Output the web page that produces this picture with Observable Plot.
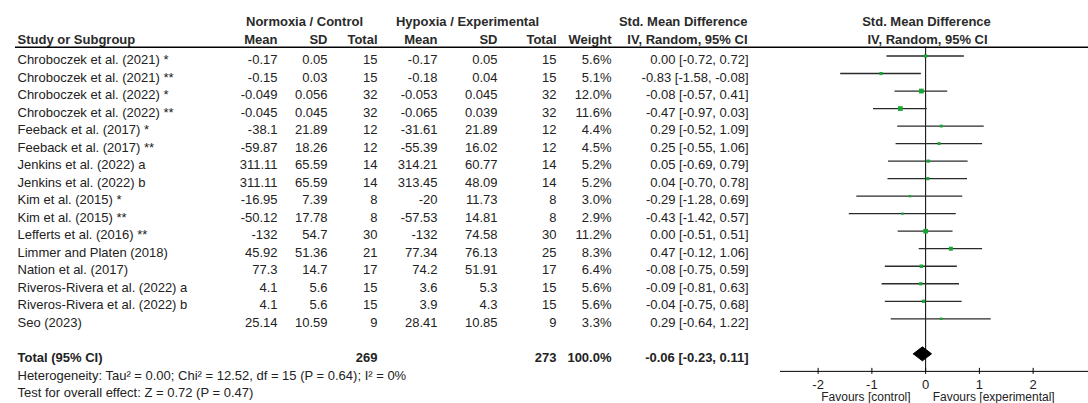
<!DOCTYPE html>
<html>
<head>
<meta charset="utf-8">
<script src="https://cdn.jsdelivr.net/npm/d3@7"></script>
<script src="https://cdn.jsdelivr.net/npm/@observablehq/plot@0.6"></script>
<style>
  body { margin: 0; background: #fff; }
</style>
</head>
<body>
<div id="chart"></div>
<script>
// Studies and their summary statistics (Normoxia / Control vs Hypoxia / Experimental)
const studies = [
  "Chroboczek et al. (2021) *",
  "Chroboczek et al. (2021) **",
  "Chroboczek et al. (2022) *",
  "Chroboczek et al. (2022) **",
  "Feeback et al. (2017) *",
  "Feeback et al. (2017) **",
  "Jenkins et al. (2022) a",
  "Jenkins et al. (2022) b",
  "Kim et al. (2015) *",
  "Kim et al. (2015) **",
  "Lefferts et al. (2016) **",
  "Limmer and Platen (2018)",
  "Nation et al. (2017)",
  "Riveros-Rivera et al. (2022) a",
  "Riveros-Rivera et al. (2022) b",
  "Seo (2023)"
];
const ctrlMean = [-0.17, -0.15, -0.049, -0.045, -38.1, -59.87, 311.11, 311.11, -16.95, -50.12, -132, 45.92, 77.3, 4.1, 4.1, 25.14];
const ctrlSD   = [0.05, 0.03, 0.056, 0.045, 21.89, 18.26, 65.59, 65.59, 7.39, 17.78, 54.7, 51.36, 14.7, 5.6, 5.6, 10.59];
const ctrlN    = [15, 15, 32, 32, 12, 12, 14, 14, 8, 8, 30, 21, 17, 15, 15, 9];
const expMean  = [-0.17, -0.18, -0.053, -0.065, -31.61, -55.39, 314.21, 313.45, -20, -57.53, -132, 77.34, 74.2, 3.6, 3.9, 28.41];
const expSD    = [0.05, 0.04, 0.045, 0.039, 21.89, 16.02, 60.77, 48.09, 11.73, 14.81, 74.58, 76.13, 51.91, 5.3, 4.3, 10.85];
const expN     = [15, 15, 32, 32, 12, 12, 14, 14, 8, 8, 30, 25, 17, 15, 15, 9];
const weight   = [5.6, 5.1, 12.0, 11.6, 4.4, 4.5, 5.2, 5.2, 3.0, 2.9, 11.2, 8.3, 6.4, 5.6, 5.6, 3.3];
const smd      = [0.00, -0.83, -0.08, -0.47, 0.29, 0.25, 0.05, 0.04, -0.29, -0.43, 0.00, 0.47, -0.08, -0.09, -0.04, 0.29];
const ciLow    = [-0.72, -1.58, -0.57, -0.97, -0.52, -0.55, -0.69, -0.70, -1.28, -1.42, -0.51, -0.12, -0.75, -0.81, -0.75, -0.64];
const ciHigh   = [0.72, -0.08, 0.41, 0.03, 1.09, 1.06, 0.79, 0.78, 0.69, 0.57, 0.51, 1.06, 0.59, 0.63, 0.68, 1.22];

// Pooled result
const totalCtrlN = 269;
const totalExpN = 273;
const totalWeight = 100.0;
const totalSmd = -0.06;
const totalLow = -0.23;
const totalHigh = 0.11;

const heterogeneityText = "Heterogeneity: Tau² = 0.00; Chi² = 12.52, df = 15 (P = 0.64); I² = 0%";
const overallEffectText = "Test for overall effect: Z = 0.72 (P = 0.47)";
const axisTicks = [-2, -1, 0, 1, 2];
const favoursLeft = "Favours [control]";
const favoursRight = "Favours [experimental]";

// ---- build table rows ----
const ci = (e, lo, hi) => `${e.toFixed(2)} [${lo.toFixed(2)}, ${hi.toFixed(2)}]`;
const rows = studies.map((s, i) => ({
  row: i + 1,
  study: s,
  cm: String(ctrlMean[i]), csd: String(ctrlSD[i]), cn: String(ctrlN[i]),
  em: String(expMean[i]), esd: String(expSD[i]), en: String(expN[i]),
  w: weight[i], wt: weight[i].toFixed(1) + "%",
  smd: smd[i], lo: ciLow[i], hi: ciHigh[i],
  ci: ci(smd[i], ciLow[i], ciHigh[i])
}));
const totalRow = 18;
const axisRow = 19;
const total = [{
  row: totalRow, label: "Total (95% CI)",
  cn: String(totalCtrlN), en: String(totalExpN),
  wt: totalWeight.toFixed(1) + "%",
  ci: ci(totalSmd, totalLow, totalHigh)
}];
const diamondHalf = 0.4; // half height of the pooled diamond, in rows
const diamond = [
  {x: totalLow, y: totalRow},
  {x: totalSmd, y: totalRow - diamondHalf},
  {x: totalHigh, y: totalRow},
  {x: totalSmd, y: totalRow + diamondHalf},
  {x: totalLow, y: totalRow}
];

const FONT = "'Liberation Sans', Arial, Helvetica, sans-serif";
const INK = "#222";
const FRAME_LEFT = 15;
const xDomain = [-2.7, 3.03];

// a table column of right-aligned text, placed at pixel column `right`
function column(data, field, right, extra = {}) {
  return Plot.text(data, {
    y: "row", text: field, frameAnchor: "left", textAnchor: "end",
    dx: right - FRAME_LEFT, dy: 4, fill: INK, fontSize: 13, ...extra
  });
}
// a single header label
function label(text, row, px, anchor, extra = {}) {
  return Plot.text([text], {
    y: row, text: (d) => d, frameAnchor: "left", textAnchor: anchor,
    dx: px - FRAME_LEFT, dy: 1, fill: "#2a2a2a", fontSize: 13, fontWeight: "bold", ...extra
  });
}

const chart = Plot.plot({
  width: 1088,
  height: 403,
  marginLeft: FRAME_LEFT,
  marginRight: 0,
  marginTop: 0,
  marginBottom: 0,
  style: {fontFamily: FONT, fontSize: "13px", background: "#fff"},
  x: {domain: xDomain, range: [780, 1088], axis: null},
  y: {type: "linear", domain: [1, 16], range: [55.5, 318.3], axis: null},
  r: {type: "sqrt", domain: [0, 12], range: [0, 2.7]},
  marks: [
    // column headers
    label("Normoxia / Control", -1, 304, "middle"),
    label("Hypoxia / Experimental", -1, 467, "middle"),
    label("Std. Mean Difference", -1, 747, "end"),
    label("Std. Mean Difference", -1, 926, "middle"),
    label("Study or Subgroup", 0, 17, "start"),
    label("Mean", 0, 277, "end"),
    label("SD", 0, 327, "end"),
    label("Total", 0, 377, "end"),
    label("Mean", 0, 437, "end"),
    label("SD", 0, 497, "end"),
    label("Total", 0, 556, "end"),
    label("Weight", 0, 611, "end"),
    label("IV, Random, 95% CI", 0, 747, "end"),
    label("IV, Random, 95% CI", 0, 927, "middle"),
    Plot.ruleY([0.5], {stroke: "#000", strokeWidth: 1.3}),

    // study rows
    column(rows, "study", 17, {textAnchor: "start"}),
    column(rows, "cm", 277),
    column(rows, "csd", 327),
    column(rows, "cn", 377),
    column(rows, "em", 437),
    column(rows, "esd", 497),
    column(rows, "en", 556),
    column(rows, "wt", 611),
    column(rows, "ci", 748),

    // pooled row
    column(total, "label", 17, {textAnchor: "start", fontWeight: "bold"}),
    column(total, "cn", 377, {fontWeight: "bold"}),
    column(total, "en", 556, {fontWeight: "bold"}),
    column(total, "wt", 611, {fontWeight: "bold"}),
    column(total, "ci", 748, {fontWeight: "bold"}),
    Plot.text([heterogeneityText], {y: totalRow + 1, text: (d) => d, frameAnchor: "left", textAnchor: "start", dx: 2, dy: 4, fill: INK, fontSize: 13}),
    Plot.text([overallEffectText], {y: totalRow + 2, text: (d) => d, frameAnchor: "left", textAnchor: "start", dx: 2, dy: 4, fill: INK, fontSize: 13}),

    // forest plot
    Plot.ruleX([0], {y1: 0.5, y2: axisRow, stroke: "#000", strokeWidth: 1}),
    Plot.ruleY(rows, {y: "row", x1: "lo", x2: "hi", stroke: "#2b2b2b", strokeWidth: 1.3}),
    Plot.dot(rows, {x: "smd", y: "row", r: "w", symbol: "square", fill: "#14a833"}),
    Plot.line(diamond, {x: "x", y: "y", fill: "#000", stroke: "#000", strokeWidth: 1}),

    // x axis
    Plot.ruleY([axisRow], {x1: xDomain[0], x2: xDomain[1], stroke: "#000", strokeWidth: 1}),
    Plot.ruleX(axisTicks, {x: (d) => d, y1: axisRow, y2: axisRow, insetTop: -3, insetBottom: -3, stroke: "#000"}),
    Plot.text(axisTicks, {x: (d) => d, y: axisRow, text: (d) => String(d), dy: 13.5, fill: INK, fontSize: 13}),
    Plot.text([favoursLeft], {x: 0, y: axisRow, text: (d) => d, textAnchor: "end", dx: -15, dy: 26, fill: INK, fontSize: 12}),
    Plot.text([favoursRight], {x: 0, y: axisRow, text: (d) => d, textAnchor: "start", dx: 7, dy: 26, fill: INK, fontSize: 12})
  ]
});

document.getElementById("chart").appendChild(chart);
</script>
</body>
</html>
